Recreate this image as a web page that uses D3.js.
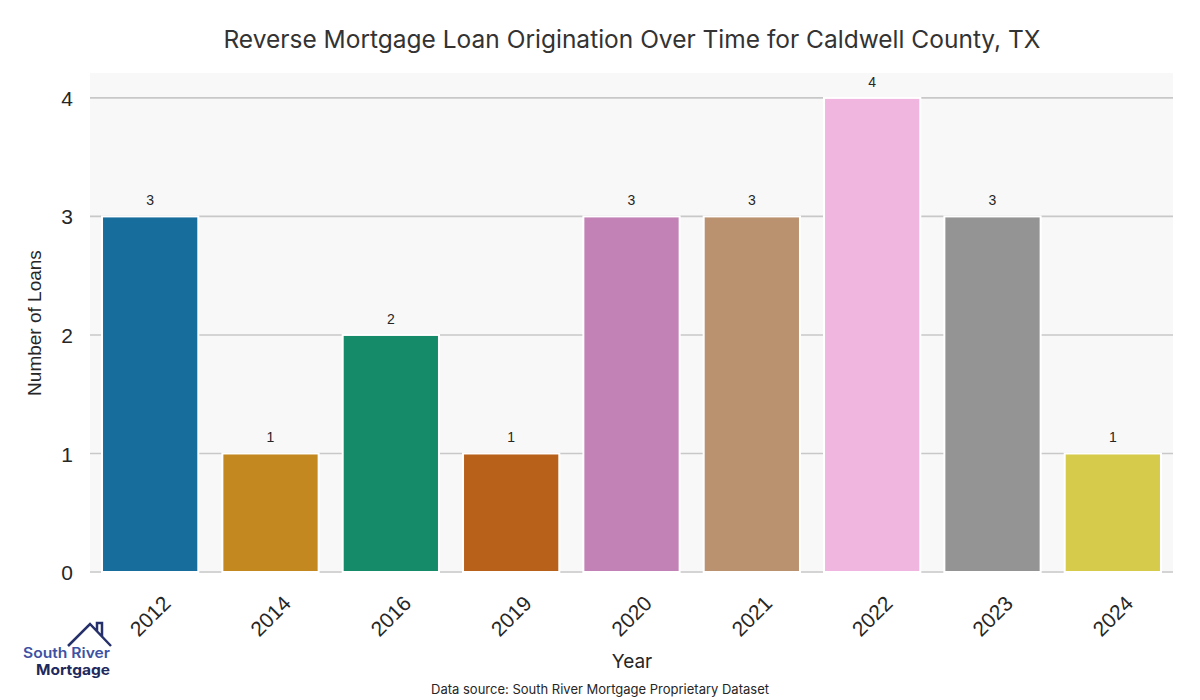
<!DOCTYPE html>
<html><head><meta charset="utf-8">
<script src="https://cdn.jsdelivr.net/npm/d3@7"></script>
<style>body{margin:0;background:#fff}</style>
</head><body>
<svg id="c" width="1200" height="700"></svg>
<script>
const years = ["2012","2014","2016","2019","2020","2021","2022","2023","2024"];
const loans = [3,1,2,1,3,3,4,3,1];
const colors = ["#176d9c","#c38820","#158b6a","#b8611b","#c282b6","#bb9270","#f1b6e0","#949494","#d6cb4a"];
const yTicks = [0,1,2,3,4];

const svg = d3.select("#c");
const L=90, R=1173, T=73, B=572;
const x = d3.scaleBand().domain(years).range([L,R]).paddingInner(0).paddingOuter(0);
const y = d3.scaleLinear().domain([0,4.21]).range([B,T]);

svg.append("rect").attr("x",L).attr("y",T).attr("width",R-L).attr("height",B-T+1).attr("fill","#f8f8f8");

// grid
svg.append("g").selectAll("line").data(yTicks).join("line")
  .attr("x1",L).attr("x2",R).attr("y1",d=>y(d)).attr("y2",d=>y(d))
  .attr("stroke","#c8c8c8").attr("stroke-width",1.6);

// bars
const bw = x.bandwidth()*0.8;
svg.append("g").selectAll("rect").data(years).join("rect")
  .attr("x",d=>x(d)+x.bandwidth()/2-bw/2)
  .attr("y",(d,i)=>y(loans[i]))
  .attr("width",bw)
  .attr("height",(d,i)=>y(0)-y(loans[i]))
  .attr("fill",(d,i)=>colors[i])
  .attr("stroke","#ffffff").attr("stroke-width",2);

// data labels
svg.append("g").selectAll("text").data(years).join("text")
  .attr("x",d=>x(d)+x.bandwidth()/2)
  .attr("y",(d,i)=>y(loans[i])-11)
  .attr("text-anchor","middle")
  .attr("font-family","Liberation Sans, Arial, sans-serif")
  .attr("font-size",14).attr("fill","#262626")
  .text((d,i)=>loans[i]);

// y ticks
const yAxis = d3.axisLeft(y).tickValues(yTicks).tickFormat(d3.format("d")).tickSize(0).tickPadding(0);
const gy = svg.append("g").attr("transform",`translate(${L-17},0)`).call(yAxis);
gy.select(".domain").remove();
gy.selectAll("text").attr("font-family","Liberation Sans, Arial, sans-serif").attr("font-size",21).attr("fill","#262626").attr("dy","0.36em");

// x ticks
const xAxis = d3.axisBottom(x).tickSize(0).tickPadding(0);
const gx = svg.append("g").call(xAxis);
gx.select(".domain").remove();
gx.selectAll(".tick").attr("transform",d=>`translate(${x(d)+x.bandwidth()/2},616)`);
gx.selectAll("text").attr("y",0).attr("dy","0.35em").attr("text-anchor","middle")
  .attr("transform","rotate(-45)")
  .attr("font-family","Liberation Sans, Arial, sans-serif").attr("font-size",21).attr("fill","#262626");

// title
svg.append("text").attr("x",632).attr("y",48).attr("text-anchor","middle")
  .attr("font-family","Inter, Lato, sans-serif").attr("font-size",24.5).attr("fill","#333")
  .text("Reverse Mortgage Loan Origination Over Time for Caldwell County, TX");

// axis labels
svg.append("text").attr("transform","translate(41,323) rotate(-90)").attr("text-anchor","middle")
  .attr("font-family","Liberation Sans, Arial, sans-serif").attr("font-size",19).attr("fill","#262626")
  .text("Number of Loans");
svg.append("text").attr("x",632).attr("y",668).attr("text-anchor","middle")
  .attr("font-family","Inter, Lato, sans-serif").attr("font-size",19).attr("fill","#262626")
  .text("Year");
svg.append("text").attr("x",600).attr("y",694).attr("text-anchor","middle")
  .attr("font-family","Inter, Lato, sans-serif").attr("font-size",13).attr("fill","#262626")
  .text("Data source: South River Mortgage Proprietary Dataset");

// logo
const lg = svg.append("g");
lg.append("path").attr("d","M68,646 L90,624 L111,646 M97,631 L97,623 L102,623 L102,636")
  .attr("fill","none").attr("stroke","#26306a").attr("stroke-width",2.5).attr("stroke-linejoin","miter");
lg.append("text").attr("x",23).attr("y",658).attr("font-family","Inter, Lato, sans-serif").attr("font-weight",600)
  .attr("font-size",14.5).attr("textLength",87).attr("lengthAdjust","spacingAndGlyphs").attr("fill","#3d52a4").text("South River");
lg.append("text").attr("x",36).attr("y",675).attr("font-family","Inter, Lato, sans-serif").attr("font-weight",700)
  .attr("font-size",14.5).attr("textLength",74).attr("lengthAdjust","spacingAndGlyphs").attr("fill","#1e2a5e").text("Mortgage");
</script>
</body></html>
